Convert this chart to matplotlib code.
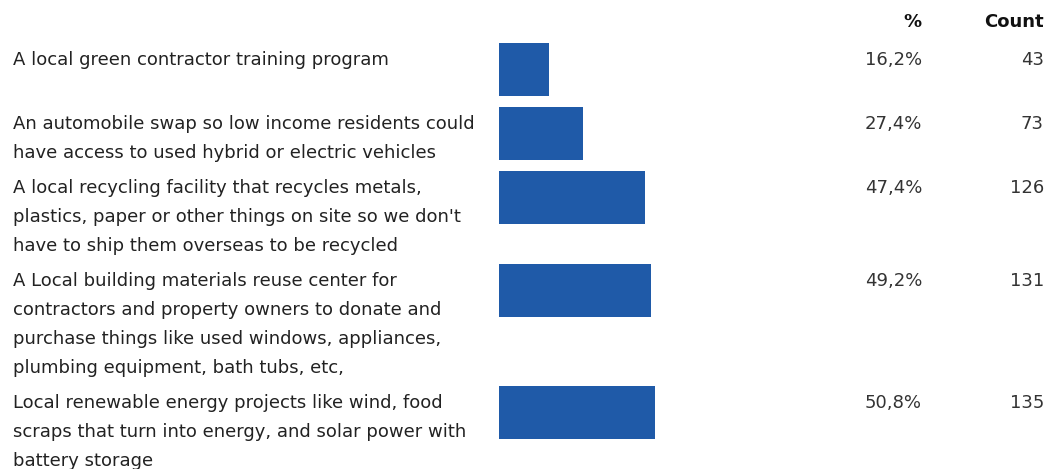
import matplotlib.pyplot as plt
import matplotlib.transforms as mtransforms

# survey answers, shares and raw counts
labels = [
    ["A local green contractor training program"],
    ["An automobile swap so low income residents could",
     "have access to used hybrid or electric vehicles"],
    ["A local recycling facility that recycles metals,",
     "plastics, paper or other things on site so we don't",
     "have to ship them overseas to be recycled"],
    ["A Local building materials reuse center for",
     "contractors and property owners to donate and",
     "purchase things like used windows, appliances,",
     "plumbing equipment, bath tubs, etc,"],
    ["Local renewable energy projects like wind, food",
     "scraps that turn into energy, and solar power with",
     "battery storage"],
]
percents = [16.2, 27.4, 47.4, 49.2, 50.8]
counts = [43, 73, 126, 131, 135]

W, H = 1049, 469
FONT = "DejaVu Sans"
FS = 13.0
BAR_COLOR = "#1f5aa8"
LINE_STEP = 29
BAR_H = 53

fig = plt.figure(figsize=(W / 100, H / 100), dpi=100)
ax = fig.add_axes([499 / W, 0, 308 / W, 1])
ax.set_xlim(0, 100)
ax.set_ylim(H, 0)
ax.axis("off")

# row tops grow with the number of wrapped label lines
tops = []
y = 43
for lines in labels:
    tops.append(y)
    y += max(len(lines) * LINE_STEP + 6, 64)

ax.barh(tops, percents, height=BAR_H, align="edge", color=BAR_COLOR)

trans = mtransforms.blended_transform_factory(fig.transFigure, ax.transData)

ax.text(922 / W, 27, "%", transform=trans, ha="right", va="baseline",
        fontsize=FS, fontweight="bold", family=FONT, color="#111111")
ax.text(1044 / W, 27, "Count", transform=trans, ha="right", va="baseline",
        fontsize=FS, fontweight="bold", family=FONT, color="#111111")

for top, lines, p, c in zip(tops, labels, percents, counts):
    base = top + 22
    for i, line in enumerate(lines):
        ax.text(13 / W, base + i * LINE_STEP, line, transform=trans,
                ha="left", va="baseline", fontsize=FS, family=FONT,
                color="#222222")
    ax.text(922 / W, base, f"{p:.1f}".replace(".", ",") + "%", transform=trans,
            ha="right", va="baseline", fontsize=FS, family=FONT, color="#333333")
    ax.text(1044 / W, base, str(c), transform=trans,
            ha="right", va="baseline", fontsize=FS, family=FONT, color="#333333")

fig.savefig("out.png", dpi=100)
